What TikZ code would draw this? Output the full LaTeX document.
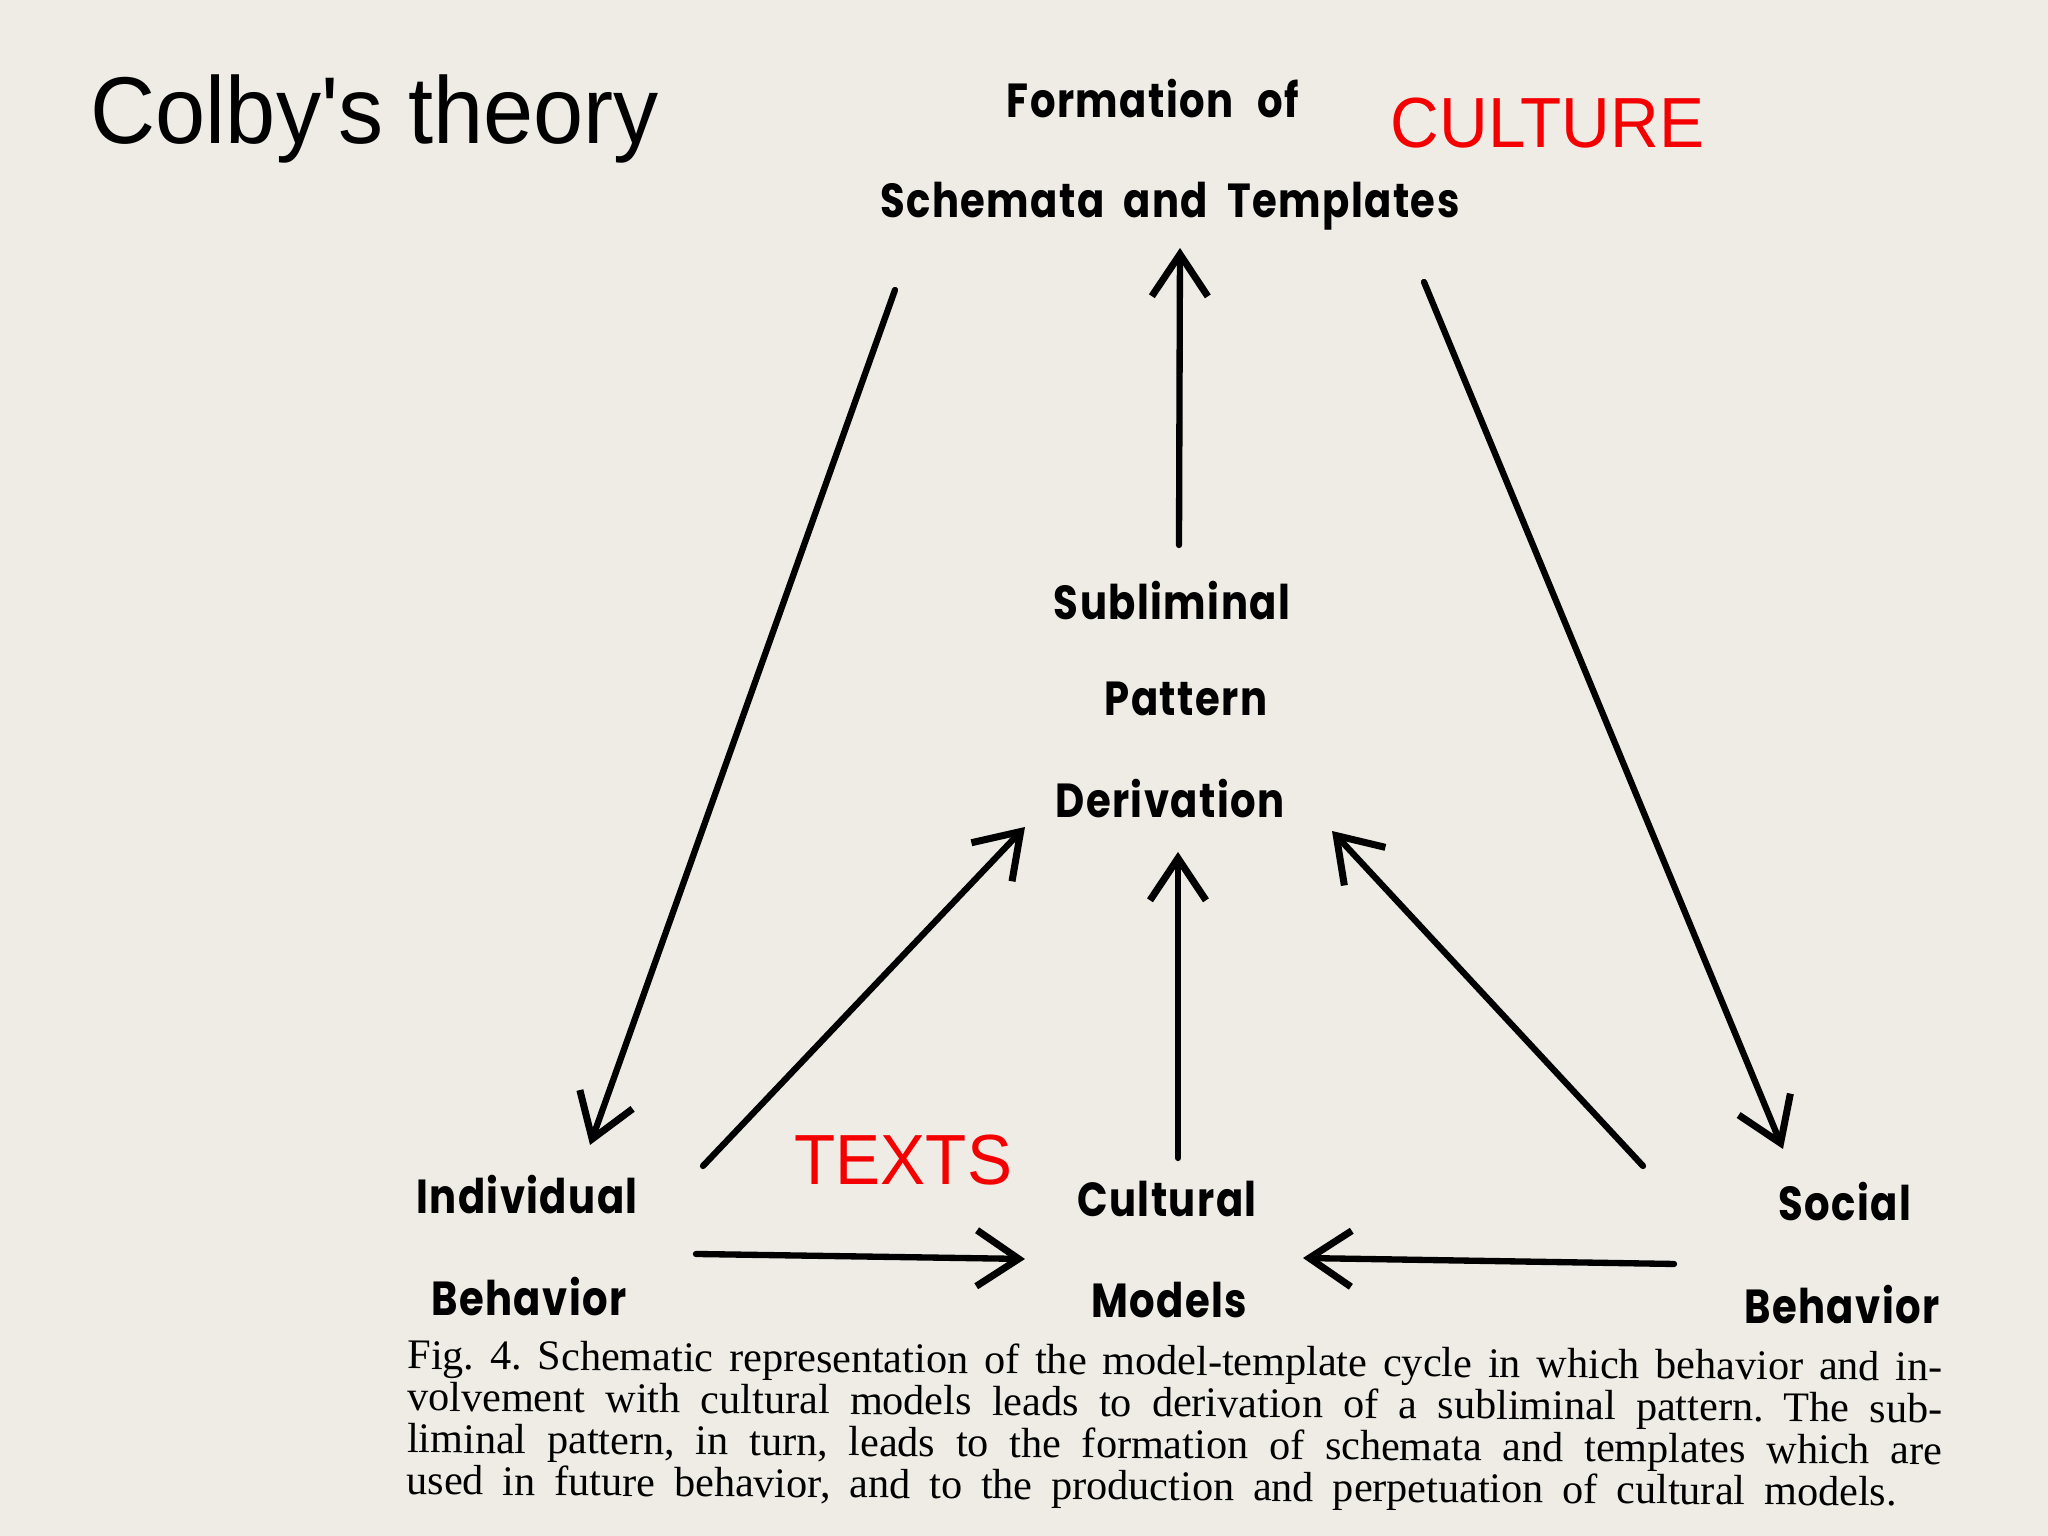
\documentclass[tikz,border=0pt]{standalone}
\usepackage{fontspec}
\usetikzlibrary{arrows.meta}
\setmainfont{Liberation Serif}
\newfontfamily\slidefont[FakeStretch=0.95]{Liberation Sans}
\newfontfamily\letterfont[FakeStretch=0.84, LetterSpace=3]{Poppins}
\definecolor{paper}{RGB}{238,236,229}
\definecolor{slidered}{RGB}{245,0,0}
\tikzset{
  lettering/.style={inner sep=0pt, font=\letterfont\bfseries\fontsize{13.6}{16}\selectfont},
  redlabel/.style={inner sep=0pt, anchor=base west, text=slidered, font=\slidefont\fontsize{20.2}{24}\selectfont},
  captext/.style={inner sep=0pt, anchor=base west, rotate=-0.44, font=\frenchspacing\fontsize{12}{11.9}\selectfont},
  flow/.style={line width=1.8pt, line cap=round, -{Straight Barb[length=4.2mm, width=5.6mm, line width=2pt]}}
}
\begin{document}
\begin{tikzpicture}[x=1cm,y=1cm]
\useasboundingbox (0,0) rectangle (20.48,15.36);
\fill[paper] (0,0) rectangle (20.48,15.36);

% title
\node[inner sep=0pt, anchor=base west, font=\slidefont\fontsize{27}{32}\selectfont] (title) at (0.90,13.92) {Colby's theory};
\node[redlabel] (culture) at (13.90,13.88) {CULTURE};
\node[redlabel] (texts) at (7.94,3.51) {TEXTS};

% diagram labels
\node[lettering] (formation) at (11.53,14.37) {Formation\hspace{0.5em}of};
\node[lettering] (schemata) at (11.70,13.30) {Schemata\hspace{0.4em}and\hspace{0.4em}Templates};
\node[lettering] (subliminal) at (11.72,9.35) {Subliminal};
\node[lettering] (pattern) at (11.86,8.37) {Pattern};
\node[lettering] (derivation) at (11.70,7.37) {Derivation};
\node[lettering] (individual) at (5.27,3.41) {Individual};
\node[lettering] (behaviorL) at (5.29,2.39) {Behavior};
\node[lettering] (cultural) at (11.67,3.37) {Cultural};
\node[lettering] (models) at (11.69,2.36) {Models};
\node[lettering] (social) at (18.45,3.34) {Social};
\node[lettering] (behaviorR) at (18.42,2.31) {Behavior};

% connector end points
\coordinate (upS) at (11.79,9.91);
\coordinate (upT) at (11.80,12.88);
\coordinate (leftS) at (8.95,12.46);
\coordinate (leftT) at (5.90,3.91);
\coordinate (rightS) at (14.24,12.54);
\coordinate (rightT) at (17.83,3.87);
\coordinate (indS) at (7.03,3.70);
\coordinate (indT) at (10.25,7.09);
\coordinate (culS) at (11.78,3.78);
\coordinate (culT) at (11.78,6.84);
\coordinate (socS) at (16.43,3.70);
\coordinate (socT) at (13.32,7.05);
\coordinate (icS) at (6.96,2.82);
\coordinate (icT) at (10.25,2.77);
\coordinate (scS) at (16.74,2.72);
\coordinate (scT) at (13.03,2.78);

\draw[flow] (upS) -- (upT);
\draw[flow] (leftS) -- (leftT);
\draw[flow] (rightS) -- (rightT);
\draw[flow] (indS) -- (indT);
\draw[flow] (culS) -- (culT);
\draw[flow] (socS) -- (socT);
\draw[flow] (icS) -- (icT);
\draw[flow] (scS) -- (scT);

% caption
\node[captext] (caption) at (4.07,1.67) {\vtop{\baselineskip=0.418cm\lineskiplimit=-1cm
  \hbox{\makebox[15.35cm][s]{Fig. 4. Schematic representation of the model-template cycle in which behavior and in-}}
  \hbox{\makebox[15.35cm][s]{volvement with cultural models leads to derivation of a subliminal pattern. The sub-}}
  \hbox{\makebox[15.35cm][s]{liminal pattern, in turn, leads to the formation of schemata and templates which are}}
  \hbox{\makebox[14.90cm][s]{used in future behavior, and to the production and perpetuation of cultural models.}}}};
\end{tikzpicture}
\end{document}
